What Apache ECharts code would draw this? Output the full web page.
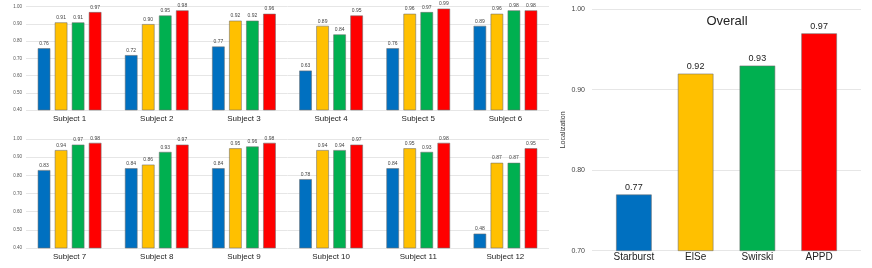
<!DOCTYPE html>
<html>
<head>
<meta charset="utf-8">
<script src="https://cdn.jsdelivr.net/npm/echarts@6/dist/echarts.min.js"></script>
<style>
html,body{margin:0;padding:0;background:#fff;}
#c{width:872px;height:268px;}
</style>
</head>
<body>
<div id="c"></div>
<script>
// ---- data ----
const methods = ['Starburst', 'ElSe', 'Swirski', 'APPD'];
const colors = ['#0070C0', '#FFC000', '#00B050', '#FF0000'];

const subjectsTop = ['Subject 1', 'Subject 2', 'Subject 3', 'Subject 4', 'Subject 5', 'Subject 6'];
const starburstTop = [0.76, 0.72, 0.77, 0.63, 0.76, 0.89];
const elseTop      = [0.91, 0.90, 0.92, 0.89, 0.96, 0.96];
const swirskiTop   = [0.91, 0.95, 0.92, 0.84, 0.97, 0.98];
const appdTop      = [0.97, 0.98, 0.96, 0.95, 0.99, 0.98];

const subjectsBottom = ['Subject 7', 'Subject 8', 'Subject 9', 'Subject 10', 'Subject 11', 'Subject 12'];
const starburstBottom = [0.83, 0.84, 0.84, 0.78, 0.84, 0.48];
const elseBottom      = [0.94, 0.86, 0.95, 0.94, 0.95, 0.87];
const swirskiBottom   = [0.97, 0.93, 0.96, 0.94, 0.93, 0.87];
const appdBottom      = [0.98, 0.97, 0.98, 0.97, 0.98, 0.95];

const overallValues = [0.77, 0.92, 0.93, 0.97];
const overallTitle = 'Overall';
const overallAxisName = 'Localization';

// ---- chart ----
const FONT = 'Liberation Sans, Arial, sans-serif';
const chart = echarts.init(document.getElementById('c'), null, {renderer: 'canvas'});

const gridLine = {show: true, lineStyle: {color: '#e6e6e6', width: 1}};
const border = {borderColor: 'rgba(110,110,110,0.55)', borderWidth: 1};

function smallX(idx, cats) {
  return {
    type: 'category', gridIndex: idx, data: cats,
    axisLine: {show: false}, axisTick: {show: false},
    axisLabel: {fontFamily: FONT, fontSize: 8, color: '#222', margin: 5}
  };
}
function smallY(idx) {
  return {
    type: 'value', gridIndex: idx, min: 0.4, max: 1.0, interval: 0.1,
    axisLine: {show: false}, axisTick: {show: false},
    splitLine: gridLine,
    axisLabel: {fontFamily: FONT, fontSize: 4.5, color: '#555', margin: 4,
      formatter: v => v.toFixed(2)}
  };
}
function smallSeries(idx, arrs) {
  return arrs.map((arr, i) => ({
    type: 'bar', name: methods[i], xAxisIndex: idx, yAxisIndex: idx,
    data: arr, barWidth: 13, barGap: '31%',
    itemStyle: Object.assign({color: colors[i]}, border),
    label: {show: true, position: 'top', distance: 2, fontFamily: FONT, fontSize: 5,
      color: '#444', formatter: p => p.value.toFixed(2)}
  }));
}

const option = {
  animation: false,
  backgroundColor: '#fff',
  title: {
    text: overallTitle, left: 722, top: 10, textAlign: 'center',
    textStyle: {fontFamily: FONT, fontSize: 13, fontWeight: 'normal', color: '#222'}
  },
  grid: [
    {left: 26, width: 523, top: 6.7, height: 103.3},
    {left: 26, width: 523, top: 139, height: 109},
    {left: 592, width: 269, top: 9, height: 241.7},
    {left: 603, width: 247, top: 9, height: 241.7}
  ],
  xAxis: [
    smallX(0, subjectsTop),
    smallX(1, subjectsBottom),
    {type: 'category', gridIndex: 2, data: methods, show: false},
    {type: 'category', gridIndex: 3, data: methods,
      axisLine: {show: false}, axisTick: {show: false},
      axisLabel: {fontFamily: FONT, fontSize: 10, color: '#222', margin: 2}}
  ],
  yAxis: [
    smallY(0),
    smallY(1),
    {type: 'value', gridIndex: 2, min: 0.7, max: 1.0, interval: 0.1,
      axisLine: {show: false}, axisTick: {show: false}, splitLine: gridLine,
      name: overallAxisName, nameLocation: 'middle', nameGap: 25,
      nameTextStyle: {fontFamily: FONT, fontSize: 7, color: '#333'},
      axisLabel: {fontFamily: FONT, fontSize: 7, color: '#444', margin: 7,
        formatter: v => v.toFixed(2)}},
    {type: 'value', gridIndex: 3, min: 0.7, max: 1.0, interval: 0.1, show: false,
      splitLine: {show: false}}
  ],
  series: [
    ...smallSeries(0, [starburstTop, elseTop, swirskiTop, appdTop]),
    ...smallSeries(1, [starburstBottom, elseBottom, swirskiBottom, appdBottom]),
    {
      type: 'bar', name: overallTitle, xAxisIndex: 3, yAxisIndex: 3,
      data: overallValues.map((v, i) => ({value: v, itemStyle: Object.assign({color: colors[i]}, border)})),
      barWidth: 36,
      label: {show: true, position: 'top', distance: 2, fontFamily: FONT, fontSize: 9,
        color: '#222', formatter: p => p.value.toFixed(2)}
    }
  ]
};
chart.setOption(option);
</script>
</body>
</html>
